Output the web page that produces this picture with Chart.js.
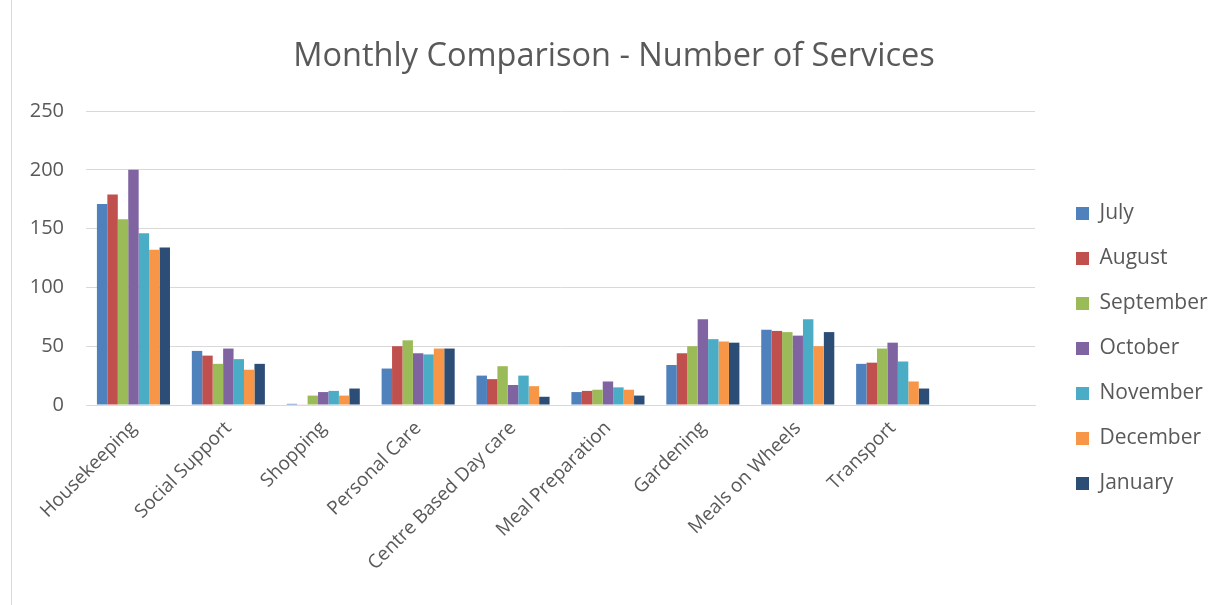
<!DOCTYPE html>
<html>
<head>
<meta charset="utf-8">
<script src="https://cdn.jsdelivr.net/npm/chart.js@4/dist/chart.umd.min.js"></script>
<style>
  html, body { margin: 0; padding: 0; background: #fff; }
  #wrap { width: 1228px; height: 605px; position: relative; }
</style>
</head>
<body>
<div id="wrap"><canvas id="chart" width="1228" height="605"></canvas></div>
<script>
// Chart data
const categories = ['Housekeeping', 'Social Support', 'Shopping', 'Personal Care', 'Centre Based Day care',
    'Meal Preparation', 'Gardening', 'Meals on Wheels', 'Transport', ''];
const months = ['July', 'August', 'September', 'October', 'November', 'December', 'January'];

const july      = [171, 46, 1, 31, 25, 11, 34, 64, 35, null];
const august    = [179, 42, 0.5, 50, 22, 12, 44, 63, 36, null];
const september = [158, 35, 8, 55, 33, 13, 50, 62, 48, null];
const october   = [200, 48, 11, 44, 17, 20, 73, 59, 53, null];
const november  = [146, 39, 12, 43, 25, 15, 56, 73, 37, null];
const december  = [132, 30, 8, 48, 16, 13, 54, 50, 20, null];
const january   = [134, 35, 14, 48, 7, 8, 53, 62, 14, null];

const yTicks = [0, 50, 100, 150, 200, 250];

const colors = ['#4F81BD', '#C0504D', '#9BBB59', '#8064A2', '#4BACC6', '#F79646', '#2C4D75'];
const seriesValues = [july, august, september, october, november, december, january];

const textColor = '#595959';
const gridColor = '#d9d9d9';
const fontFamily = '"Open Sans", sans-serif';

// Outer chart border like the spreadsheet frame
const frame = {
    id: 'frame',
    beforeDraw(chart) {
        const ctx = chart.ctx;
        ctx.save();
        ctx.fillStyle = '#fff';
        ctx.fillRect(0, 0, chart.width, chart.height);
        ctx.strokeStyle = '#d9d9d9';
        ctx.lineWidth = 1;
        ctx.beginPath();
        ctx.moveTo(11.5, 0);
        ctx.lineTo(11.5, chart.height);
        ctx.stroke();
        ctx.restore();
    }
};

// Fix legend width and nudge it so plot area ends where the reference does
const legendFit = {
    id: 'legendFit',
    beforeInit(chart) {
        const orig = chart.legend.fit;
        chart.legend.fit = function () {
            orig.call(this);
            this.width = 193;
        };
    },
    afterLayout(chart) {
        chart.legend.left += 17;
        chart.legend.right += 17;
        chart.legend.top += 46;
        chart.legend.bottom += 46;
    }
};

new Chart(document.getElementById('chart'), {
    type: 'bar',
    data: {
        labels: categories,
        datasets: months.map((m, i) => ({
            label: m,
            data: seriesValues[i],
            backgroundColor: colors[i],
            borderWidth: 0,
            categoryPercentage: 0.77,
            barPercentage: 1
        }))
    },
    plugins: [frame, legendFit],
    options: {
        responsive: false,
        animation: false,
        layout: { padding: { left: 0, right: 0, top: 0, bottom: 0 } },
        plugins: {
            title: {
                display: true,
                text: 'Monthly Comparison - Number of Services',
                color: textColor,
                font: { family: fontFamily, size: 32.5, weight: 'normal' },
                padding: { top: 37, bottom: 35 }
            },
            legend: {
                position: 'right',
                labels: {
                    color: textColor,
                    font: { family: fontFamily, size: 21 },
                    boxWidth: 13,
                    boxHeight: 13,
                    padding: 24
                }
            },
            tooltip: { enabled: false }
        },
        scales: {
            x: {
                grid: { display: false },
                border: { display: true, color: gridColor, width: 1 },
                ticks: {
                    color: textColor,
                    font: { family: fontFamily, size: 19 },
                    minRotation: 45,
                    maxRotation: 45,
                    autoSkip: false,
                    padding: 4
                },
                afterFit(scale) { scale.height = 200; }
            },
            y: {
                min: 0,
                max: 250,
                afterBuildTicks(scale) { scale.ticks = yTicks.map(v => ({ value: v })); },
                grid: { color: gridColor, lineWidth: 1, drawTicks: false },
                border: { display: false },
                ticks: {
                    color: textColor,
                    font: { family: fontFamily, size: 20 },
                    padding: 22
                },
                afterFit(scale) { scale.width = 86; }
            }
        }
    }
});
</script>
</body>
</html>
